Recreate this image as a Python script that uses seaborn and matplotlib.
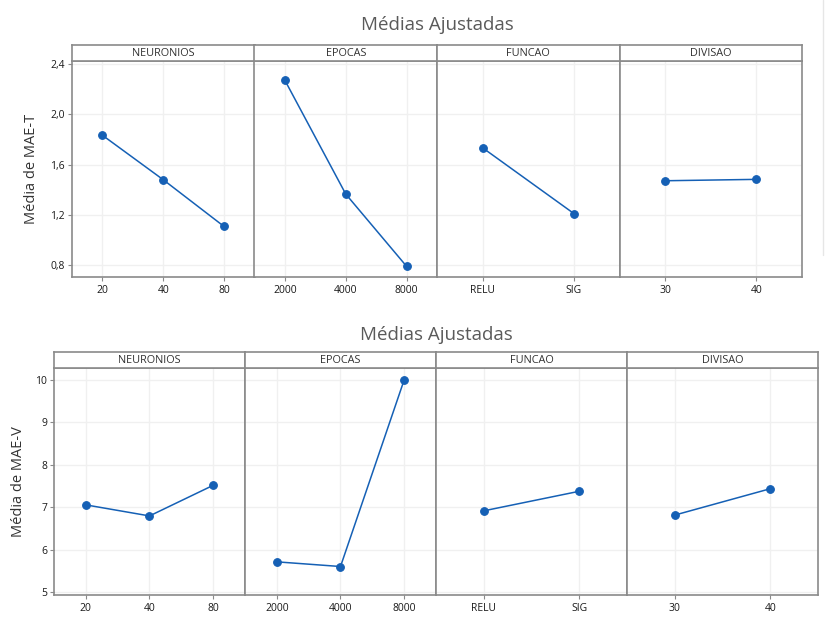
import matplotlib
matplotlib.use("Agg")
import matplotlib.pyplot as plt
import seaborn as sns
import pandas as pd
from matplotlib.lines import Line2D

sns.set_theme(style="white")
plt.rcParams['font.family'] = ['Open Sans', 'DejaVu Sans']

# ---------------- data ----------------
factors = ["NEURONIOS", "EPOCAS", "FUNCAO", "DIVISAO"]
levels_neuronios = ["20", "40", "80"]
levels_epocas = ["2000", "4000", "8000"]
levels_funcao = ["RELU", "SIG"]
levels_divisao = ["30", "40"]

mae_t_neuronios = [1.833, 1.479, 1.107]
mae_t_epocas = [2.27, 1.365, 0.79]
mae_t_funcao = [1.733, 1.21]
mae_t_divisao = [1.471, 1.482]

mae_v_neuronios = [7.06, 6.80, 7.52]
mae_v_epocas = [5.72, 5.61, 10.0]
mae_v_funcao = [6.92, 7.38]
mae_v_divisao = [6.82, 7.44]

title = "Médias Ajustadas"
ylabel_t = "Média de MAE-T"
ylabel_v = "Média de MAE-V"

yticks_t = [0.8, 1.2, 1.6, 2.0, 2.4]
yticklabels_t = ["0,8", "1,2", "1,6", "2,0", "2,4"]
yticks_v = [5, 6, 7, 8, 9, 10]
yticklabels_v = ["5", "6", "7", "8", "9", "10"]

levels = [levels_neuronios, levels_epocas, levels_funcao, levels_divisao]


def long_df(vals):
    rows = []
    for f, lv, vv in zip(factors, levels, vals):
        for l, v in zip(lv, vv):
            rows.append({"fator": f, "nivel": l, "media": v})
    return pd.DataFrame(rows)


df_t = long_df([mae_t_neuronios, mae_t_epocas, mae_t_funcao, mae_t_divisao])
df_v = long_df([mae_v_neuronios, mae_v_epocas, mae_v_funcao, mae_v_divisao])

# ---------------- figure ----------------
W, H = 829, 617
fig = plt.figure(figsize=(W / 100, H / 100), dpi=100)
fig.patch.set_facecolor("white")

FRAME = "#8a8a8a"
GRID = "#f0f0f0"
LINE = "#1560b5"
TXT = "#1a1a1a"


def fx(px):
    return px / W


def fy(py):
    return 1 - py / H


def draw_chart(df, left, right, top, strip_bottom, bottom, ylim, yticks, yticklabels,
               ylabel, ylabel_x, title_y):
    pw = (right - left) / 4
    for i, f in enumerate(factors):
        x0 = left + i * pw
        ax = fig.add_axes([fx(x0), fy(bottom), pw / W, (bottom - strip_bottom) / H])
        sub = df[df["fator"] == f]
        order = levels[i]
        sns.pointplot(data=sub, x="nivel", y="media", order=order, ax=ax,
                      color=LINE, markers="o", linestyles="-", errorbar=None,
                      markersize=5.5, linewidth=1.1)
        ax.set_xlim(-0.5, len(order) - 0.5)
        ax.set_ylim(*ylim)
        ax.set_yticks(yticks)
        ax.set_xticks(range(len(order)))
        ax.set_xticklabels(order)
        ax.grid(True, color=GRID, linewidth=1.0)
        ax.set_axisbelow(True)
        ax.set_xlabel("")
        ax.set_ylabel("")
        for s in ax.spines.values():
            s.set_color(FRAME)
            s.set_linewidth(1.2)
        ax.tick_params(axis="x", bottom=True, length=3, width=0.8, color=FRAME,
                       labelsize=7.5, labelcolor=TXT, pad=3)
        if i == 0:
            ax.set_yticklabels(yticklabels)
            ax.tick_params(axis="y", left=True, length=3, width=0.8, color=FRAME,
                           labelsize=7.5, labelcolor=TXT, pad=2)
        else:
            ax.tick_params(axis="y", left=False, labelleft=False)
        # strip
        sax = fig.add_axes([fx(x0), fy(strip_bottom), pw / W, (strip_bottom - top) / H])
        sax.set_xticks([])
        sax.set_yticks([])
        sax.set_facecolor("white")
        for s in sax.spines.values():
            s.set_color(FRAME)
            s.set_linewidth(1.2)
        sax.text(0.5, 0.45, f, ha="center", va="center", fontsize=7.8, color="#333333",
                 transform=sax.transAxes)
    fig.text(fx((left + right) / 2), fy(title_y), title, ha="center", va="center",
             fontsize=13.5, color="#5a5a5a")
    fig.text(fx(ylabel_x), fy((strip_bottom + bottom) / 2), ylabel, rotation=90,
             ha="center", va="center", fontsize=10.5, color="#333333")


draw_chart(df_t, 72, 802, 45, 61, 277, (0.705, 2.424), yticks_t, yticklabels_t,
           ylabel_t, 32, 25)
draw_chart(df_v, 54, 818, 352, 368, 595, (4.94, 10.28), yticks_v, yticklabels_v,
           ylabel_v, 19, 335)

fig.add_artist(Line2D([fx(823), fx(823)], [fy(0), fy(255)], color="#e6e6e6",
                      linewidth=1.0, transform=fig.transFigure))

fig.savefig("out.png", dpi=100, facecolor="white")
